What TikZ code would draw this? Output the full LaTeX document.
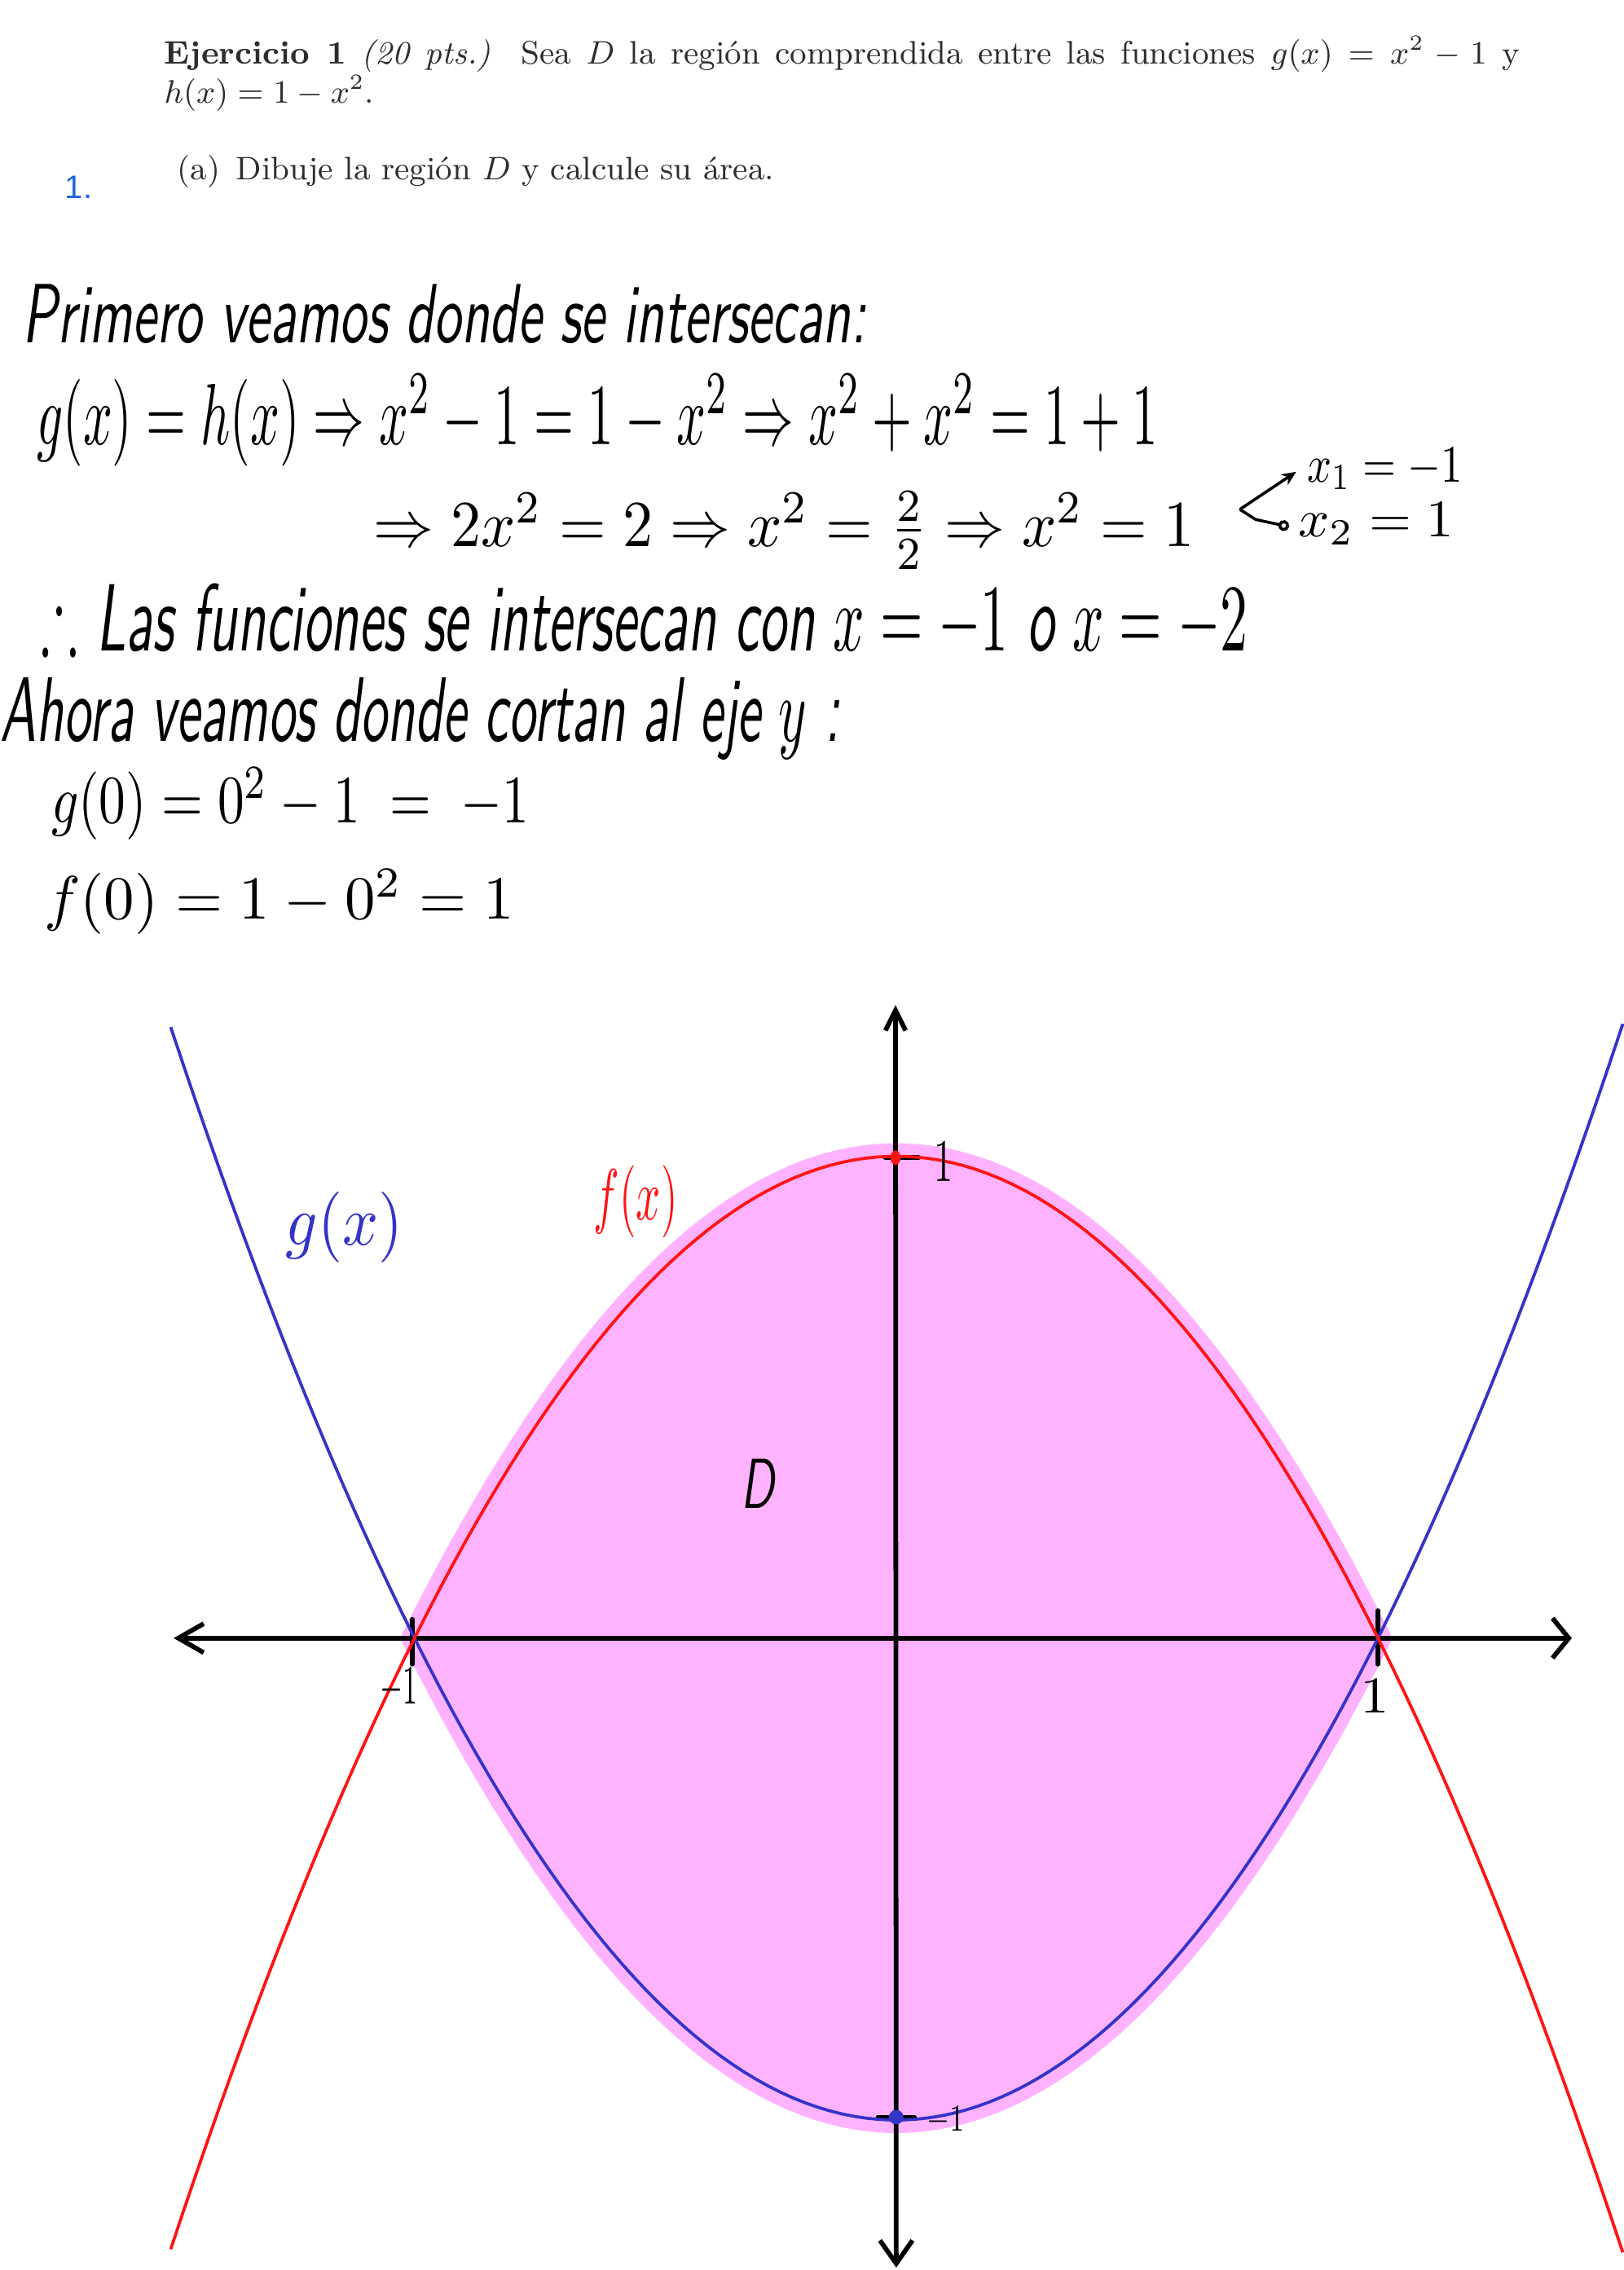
\documentclass[tikz,border=0pt]{standalone}
\usepackage{amssymb}
\usepackage{fontspec}
\usepackage{graphicx}
\usetikzlibrary{arrows.meta}
\newfontfamily\uisans{Liberation Sans}
\newcommand{\hwfont}{\sffamily\itshape}
\definecolor{gblue}{RGB}{52,52,200}
\definecolor{fred}{RGB}{255,20,20}
\definecolor{dpink}{RGB}{255,179,255}
\definecolor{linkblue}{RGB}{30,100,220}
\definecolor{titlegray}{RGB}{45,45,45}
\begin{document}
\begin{tikzpicture}[x=0.4pt,y=-0.4pt,
  hw/.style={inner sep=0pt, anchor=north west},
  ttl/.style={inner sep=0pt, anchor=base west, text=titlegray, font=\fontsize{9}{11}\selectfont},
  axisline/.style={line width=1.3pt, black},
  curve/.style={line width=0.85pt},
  tickmark/.style={line width=1.3pt, line cap=round}]
\useasboundingbox (0,0) rectangle (1122,1568.66);

% ---- printed header
\node[ttl] (t1) at (113,44.1) {\makebox[374.8pt][s]{\textbf{Ejercicio 1} \textit{(20 pts.)}\ \ Sea $D$ la región comprendida entre las funciones $g(x) = x^2 - 1$ y}};
\node[ttl] (t2) at (113,71.3) {$h(x) = 1 - x^2$.};
\node[ttl] (t3) at (122,124) {(a)\enspace Dibuje la región $D$ y calcule su área.};
\node[inner sep=0pt, anchor=base west, text=linkblue, font=\uisans\fontsize{9}{11}\selectfont] (num) at (44.5,137) {1.};

% ---- handwritten work
\node[hw] (l1) at (15,196) {\resizebox*{233.2pt}{16.4pt}{\hwfont Primero veamos donde se intersecan:}};
\node[hw] (l2) at (25,258) {\resizebox*{310pt}{25.6pt}{$g(x) = h(x) \Rightarrow x^2-1 = 1-x^2 \Rightarrow x^2+x^2 = 1+1$}};
\node[hw] (l3) at (258,339) {\resizebox*{226.8pt}{21.6pt}{$\Rightarrow 2x^2 = 2 \Rightarrow x^2 = \frac{2}{2} \Rightarrow x^2 = 1$}};
\node[hw] (x1) at (903,309) {\resizebox*{43pt}{11.6pt}{$x_1 = -1$}};
\node[hw] (x2) at (897,347) {\resizebox*{43pt}{11.6pt}{$x_2 = 1$}};
\coordinate (br) at (857,352);
\coordinate (ba) at (896,326);
\coordinate (bm) at (868,359);
\coordinate (bb) at (891,364);
\draw[line width=0.8pt, -{Stealth[length=4pt,width=3.5pt]}] (br) -- (ba);
\draw[line width=0.8pt, -{Circle[open,length=3pt]}] (br) -- (bm) -- (bb);
\node[hw] (l5) at (28,403) {\resizebox*{333.6pt}{20.8pt}{$\therefore$ \hwfont Las funciones se intersecan con $x=-1$ o $x=-2$}};
\node[hw] (l6) at (0,468) {\resizebox*{232pt}{22.8pt}{\hwfont Ahora veamos donde cortan al eje $y$ :}};
\node[hw] (l7) at (35,530) {\resizebox*{132pt}{20pt}{$g(0) = 0^2-1 \;=\; -1$}};
\node[hw] (l8) at (30,600) {\resizebox*{130pt}{18pt}{$f(0) = 1 - 0^2 = 1$}};

% ---- shaded region D
\path[fill=dpink, draw=dpink, line width=7.2pt, line join=round]
  plot[domain=-1:1, samples=80] ({619.5+333*\x},{1132-333*(1-(\x)*(\x))})
  -- plot[domain=1:-1, samples=80] ({619.5+333*\x},{1132-333*((\x)*(\x)-1)}) -- cycle;

% ---- axes
\coordinate (xl) at (120,1132);
\coordinate (xr) at (1086.5,1132);
\coordinate (yt) at (619,694.5);
\coordinate (yb) at (619.5,1567);
\draw[axisline, {Straight Barb[length=7pt,width=8pt]}-{Straight Barb[length=4.5pt,width=11pt]}] (xl) -- (xr);
\draw[axisline, {Straight Barb[length=5.6pt,width=5.6pt]}-{Straight Barb[length=6.4pt,width=9pt]}] (yt) -- (yb);

% ---- ticks
\coordinate (tla) at (285,1119); \coordinate (tlb) at (285,1150);
\coordinate (tra) at (952.5,1113); \coordinate (trb) at (952.5,1150);
\coordinate (tta) at (612,800); \coordinate (ttb) at (635,800);
\coordinate (tba) at (607,1463); \coordinate (tbb) at (632,1463);
\draw[tickmark] (tla) -- (tlb);
\draw[tickmark] (tra) -- (trb);
\draw[tickmark] (tta) -- (ttb);
\draw[tickmark] (tba) -- (tbb);

% ---- curves
\draw[curve, gblue] plot[domain=-1.506:1.509, samples=120] ({619.5+333*\x},{1132-333*((\x)*(\x)-1)});
\draw[curve, fred] plot[domain=-1.506:1.509, samples=120] ({619.5+333*\x},{1132+333*((\x)*(\x)-1)});

% ---- points
\fill[fred] (619,800) circle[x radius=3.5, y radius=5];
\fill[gblue] (619.5,1463) circle[radius=5];

% ---- labels
\node[hw, text=gblue] (gl) at (197,823) {\resizebox*{32.4pt}{19.6pt}{$g(x)$}};
\node[hw, text=fred] (fl) at (410,805) {\resizebox*{23.2pt}{20pt}{$f(x)$}};
\node[hw] (dl) at (512,1008) {\resizebox*{9.2pt}{13.6pt}{\hwfont D}};
\node[hw] (lm1) at (262,1152) {\resizebox*{10.4pt}{11.2pt}{$-1$}};
\node[hw] (lp1) at (940,1160) {\resizebox*{8pt}{9.2pt}{$1$}};
\node[hw] (lt1) at (645,789) {\resizebox*{5.2pt}{10.8pt}{$1$}};
\node[hw] (lb1) at (640,1455) {\resizebox*{10.4pt}{7.6pt}{$-1$}};
\end{tikzpicture}
\end{document}
